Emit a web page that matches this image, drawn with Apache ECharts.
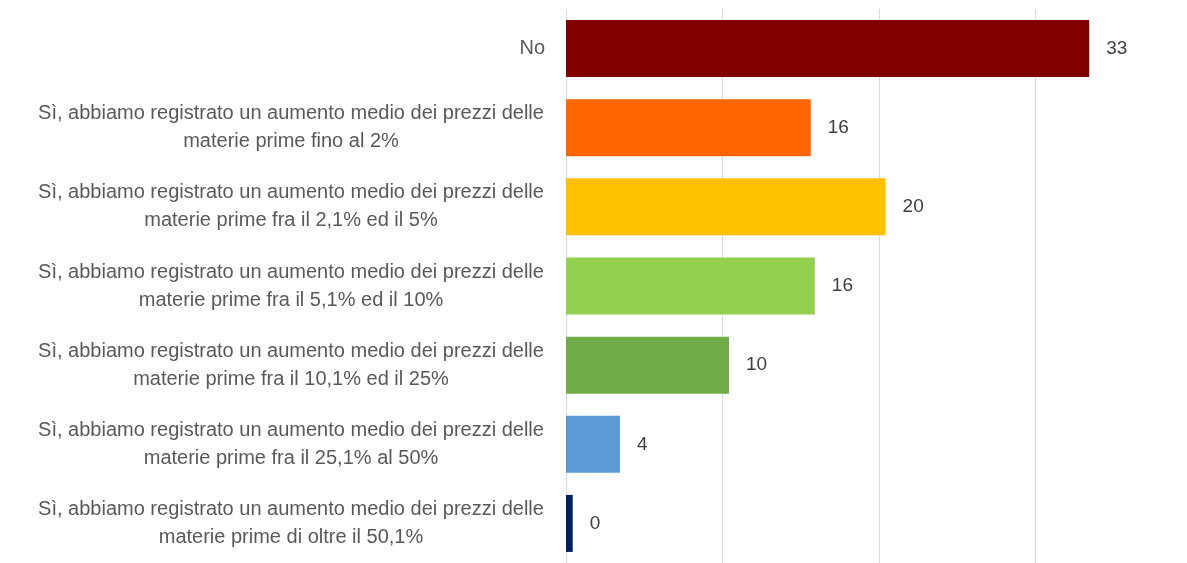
<!DOCTYPE html>
<html>
<head>
<meta charset="utf-8">
<script src="https://cdn.jsdelivr.net/npm/echarts@6/dist/echarts.min.js"></script>
<style>
  html, body { margin: 0; padding: 0; background: #fff; }
  #main { width: 1187px; height: 563px; }
</style>
</head>
<body>
<div id="main"></div>
<script>
var categories = [
    'No',
    'Sì, abbiamo registrato un aumento medio dei prezzi delle\nmaterie prime fino al 2%',
    'Sì, abbiamo registrato un aumento medio dei prezzi delle\nmaterie prime fra il 2,1% ed il 5%',
    'Sì, abbiamo registrato un aumento medio dei prezzi delle\nmaterie prime fra il 5,1% ed il 10%',
    'Sì, abbiamo registrato un aumento medio dei prezzi delle\nmaterie prime fra il 10,1% ed il 25%',
    'Sì, abbiamo registrato un aumento medio dei prezzi delle\nmaterie prime fra il 25,1% al 50%',
    'Sì, abbiamo registrato un aumento medio dei prezzi delle\nmaterie prime di oltre il 50,1%'
];
// bar lengths
var values = [33.45, 15.65, 20.43, 15.91, 10.42, 3.45, 0.43];
// numbers printed next to the bars
var valueLabels = ['33', '16', '20', '16', '10', '4', '0'];
var barColors = ['#800000', '#FF6600', '#FFC000', '#92D050', '#70AD47', '#5B9BD5', '#002060'];

var chart = echarts.init(document.getElementById('main'));

var option = {
    animation: false,
    grid: {
        left: 566,
        top: 9,
        right: 0,
        height: 558
    },
    xAxis: {
        type: 'value',
        min: 0,
        max: 39.7,   // the 40 line falls just past the right edge
        interval: 10,
        axisLabel: { show: false },
        axisLine: { show: false },
        axisTick: { show: false },
        splitLine: { lineStyle: { color: '#d9d9d9', width: 1 } }
    },
    yAxis: {
        type: 'category',
        inverse: true,
        data: categories,
        axisLine: { show: false },
        axisTick: { show: false },
        axisLabel: {
            margin: 21,
            align: 'right',
            color: '#595959',
            fontFamily: 'Liberation Sans',
            fontSize: 20,
            lineHeight: 28,
            formatter: function (v) {
                var lines = v.split('\n');
                if (lines.length === 1) return v;
                return lines.map(function (l) { return '{c|' + l + '}'; }).join('\n');
            },
            rich: {
                c: {
                    width: 508,
                    align: 'center',
                    color: '#595959',
                    fontFamily: 'Liberation Sans',
                    fontSize: 20,
                    lineHeight: 28
                }
            }
        }
    },
    series: [{
        type: 'bar',
        barWidth: 57,
        data: values.map(function (v, i) {
            return { value: v, itemStyle: { color: barColors[i] } };
        }),
        label: {
            show: true,
            position: 'right',
            distance: 17,
            color: '#404040',
            fontFamily: 'Liberation Sans',
            fontSize: 19,
            formatter: function (p) { return valueLabels[p.dataIndex]; }
        }
    }]
};
chart.setOption(option);
</script>
</body>
</html>
